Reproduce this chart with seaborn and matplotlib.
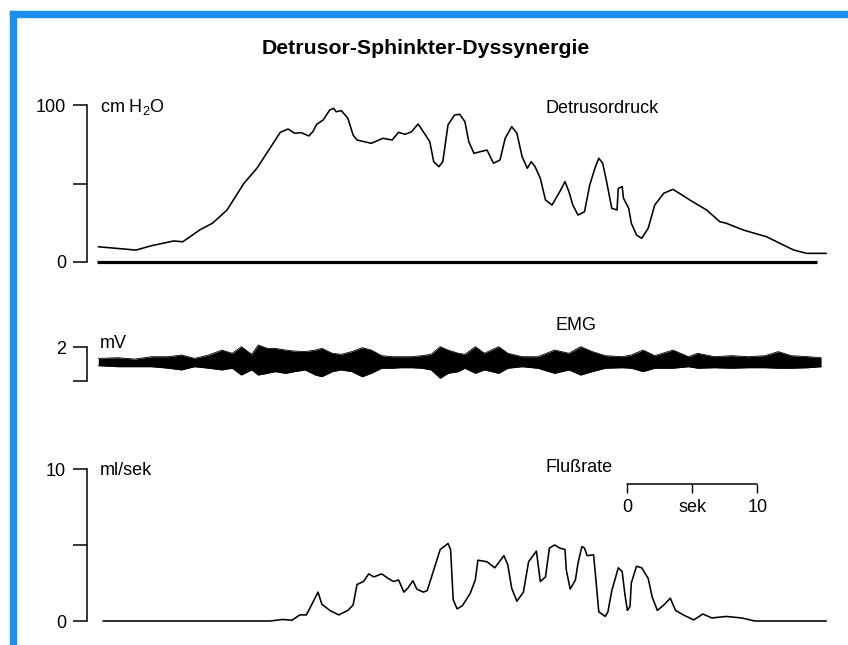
import matplotlib
matplotlib.use("Agg")
import matplotlib.pyplot as plt
from matplotlib.patches import Rectangle
import numpy as np
import pandas as pd
import seaborn as sns

# ---------------- data ----------------
# Detrusor pressure (cm H2O) over time (s)
detrusor_t = [0.1, 1.5, 3.0, 4.2, 5.9, 6.6, 7.9, 8.9, 10.0, 11.3, 12.3, 13.3, 14.1, 14.7,
              15.2, 15.7, 16.3, 16.6, 16.9, 17.4, 17.9, 18.2, 18.4, 18.8, 19.3, 19.7, 20.0,
              21.1, 22.0, 22.7, 23.2, 23.7, 24.2, 24.7, 25.1, 25.6, 25.9, 26.3, 26.6, 27.0,
              27.5, 27.9, 28.3, 28.6, 29.0, 29.5, 30.0, 30.5, 31.0, 31.4, 31.9, 32.3, 32.7,
              33.1, 33.4, 33.7, 34.1, 34.5, 35.0, 35.6, 36.0, 36.3, 36.6, 37.0, 37.5, 37.9,
              38.3, 38.6, 38.9, 39.2, 39.6, 40.0, 40.1, 40.4, 40.5, 40.9, 41.1, 41.5, 41.9,
              42.4, 42.9, 43.6, 44.3, 45.0, 45.6, 46.9, 47.9, 48.4, 49.7, 51.5, 52.8, 53.6,
              54.6, 56.1]
detrusor_p = [9.7, 8.7, 7.6, 10.4, 13.4, 12.9, 20.4, 24.8, 33.1, 50.1, 59.7, 72.4, 82.6, 84.7,
              82.0, 82.4, 80.3, 83.0, 87.7, 90.5, 96.8, 97.9, 95.7, 96.4, 91.5, 80.9, 77.7,
              75.6, 78.8, 77.7, 82.6, 81.3, 83.0, 87.9, 83.0, 76.6, 63.9, 60.7, 63.9, 87.3,
              93.6, 94.1, 89.4, 76.6, 69.2, 70.3, 71.3, 62.9, 65.0, 78.8, 86.2, 82.0, 67.1,
              59.7, 63.9, 60.7, 53.3, 39.5, 36.3, 44.8, 51.2, 44.8, 36.3, 29.9, 32.0, 49.0,
              59.7, 66.1, 62.9, 51.2, 34.2, 33.1, 46.9, 48.0, 40.6, 34.2, 24.7, 17.2, 15.1,
              21.5, 36.3, 43.8, 46.3, 42.7, 39.5, 33.1, 25.7, 24.7, 20.4, 16.1, 10.8, 7.6,
              5.5, 5.5]
baseline_start = 0.0
baseline_end = 55.4

# EMG envelope (mV, on the 0-2 mV bracket scale)
emg_t = [0.1, 1.6, 2.9, 4.2, 5.5, 6.5, 7.5, 8.6, 9.6, 10.4, 11.1, 11.9, 12.4, 13.1, 13.7,
         14.5, 15.2, 16.0, 16.8, 17.3, 18.1, 18.8, 19.6, 20.4, 21.1, 21.9, 22.7, 23.4, 24.2,
         25.0, 25.7, 26.4, 27.0, 27.8, 28.3, 29.1, 29.8, 30.9, 31.6, 32.7, 33.9, 35.2, 36.3,
         37.2, 38.1, 39.1, 40.4, 41.1, 42.0, 42.9, 44.3, 45.5, 46.2, 47.5, 48.8, 50.1, 51.4,
         52.4, 53.4, 54.7, 55.7]
emg_upper = [1.33, 1.37, 1.29, 1.43, 1.43, 1.53, 1.33, 1.53, 1.82, 1.63, 2.02, 1.57, 2.12, 1.92,
             1.92, 1.82, 1.76, 1.73, 1.82, 1.92, 1.63, 1.57, 1.73, 1.96, 1.82, 1.49, 1.43, 1.43,
             1.43, 1.49, 1.57, 2.02, 1.82, 1.63, 1.57, 2.02, 1.63, 2.02, 1.63, 1.43, 1.43, 1.82,
             1.63, 2.02, 1.73, 1.49, 1.43, 1.53, 1.82, 1.49, 1.82, 1.43, 1.63, 1.43, 1.49, 1.43,
             1.49, 1.73, 1.49, 1.43, 1.37]
emg_lower = [0.90, 0.84, 0.84, 0.84, 0.75, 0.65, 0.84, 0.75, 0.65, 0.75, 0.35, 0.65, 0.35, 0.45,
             0.55, 0.45, 0.55, 0.65, 0.35, 0.25, 0.55, 0.65, 0.55, 0.25, 0.45, 0.75, 0.75, 0.78,
             0.78, 0.75, 0.65, 0.16, 0.45, 0.55, 0.75, 0.45, 0.65, 0.45, 0.75, 0.84, 0.75, 0.45,
             0.65, 0.35, 0.55, 0.75, 0.78, 0.75, 0.55, 0.75, 0.75, 0.84, 0.75, 0.78, 0.75, 0.78,
             0.78, 0.75, 0.75, 0.78, 0.84]

# Flow rate (ml/s)
flow_t = [0.46, 13.3, 14.3, 15.0, 15.6, 16.1, 16.5, 17.0, 17.3, 17.9, 18.6, 19.3, 19.7, 20.0,
          20.5, 20.9, 21.3, 21.9, 22.4, 22.8, 23.2, 23.6, 23.9, 24.3, 24.6, 25.1, 25.4, 25.9,
          26.4, 27.0, 27.2, 27.4, 27.7, 28.1, 28.7, 29.1, 29.3, 30.0, 30.6, 31.3, 31.6, 31.9,
          32.3, 32.8, 33.2, 33.8, 34.1, 34.5, 34.8, 35.2, 35.6, 36.0, 36.1, 36.4, 36.8, 37.0,
          37.3, 37.5, 37.7, 38.2, 38.4, 38.6, 39.1, 39.3, 39.6, 40.1, 40.4, 40.6, 40.8, 41.0,
          41.1, 41.5, 41.9, 42.4, 42.7, 43.1, 43.6, 44.1, 44.5, 45.1, 45.9, 46.6, 47.3, 48.4,
          49.6, 50.6, 56.1]
flow_v = [0.0, 0.0, 0.1, 0.05, 0.4, 0.4, 1.05, 1.9, 1.1, 0.7, 0.4, 0.7, 1.05, 2.4,
          2.6, 3.1, 2.9, 3.1, 2.8, 2.6, 2.7, 1.9, 2.15, 2.65, 2.1, 1.9, 2.0, 3.35,
          4.7, 5.1, 4.7, 1.4, 0.8, 1.0, 1.8, 2.7, 4.0, 3.9, 3.5, 4.3, 3.7, 2.15,
          1.3, 1.9, 3.9, 4.6, 2.6, 2.9, 4.8, 5.0, 4.8, 4.7, 3.35, 2.1, 2.7, 3.8,
          4.9, 4.8, 4.3, 4.35, 2.5, 0.6, 0.3, 0.6, 2.0, 3.5, 3.25, 1.8, 0.7, 0.95,
          2.5, 3.6, 3.5, 2.8, 1.6, 0.7, 1.05, 1.5, 0.7, 0.4, 0.07, 0.46, 0.2, 0.3,
          0.2, 0.0, 0.0]

# Scale bar (seconds)
scale_origin = 40.8
scale_ticks = [0, 5, 10]
scale_labels = ["0", "sek", "10"]

title = "Detrusor-Sphinkter-Dyssynergie"

# ---------------- style ----------------
sns.set_style("white")
plt.rcParams["font.family"] = ["Liberation Sans", "DejaVu Sans"]
plt.rcParams["mathtext.default"] = "regular"
plt.rcParams["text.color"] = "black"
plt.rcParams["axes.labelcolor"] = "black"
plt.rcParams["xtick.color"] = "black"
plt.rcParams["ytick.color"] = "black"

W, H = 848, 645
fig = plt.figure(figsize=(W / 100, H / 100), dpi=100)
fig.patch.set_facecolor("white")

BLUE = "#1e8fe8"
fig.patches.append(Rectangle((10 / W, 0), 6 / W, 1 - 11 / H, transform=fig.transFigure,
                             color=BLUE, zorder=10))
fig.patches.append(Rectangle((10 / W, 1 - 17 / H), 1 - 10 / W, 6 / H, transform=fig.transFigure,
                             color=BLUE, zorder=10))

x_left_px, x_right_px = 87, 832
px_per_s = 13.0
t0_px = 97
xlim = ((x_left_px - t0_px) / px_per_s, (x_right_px - t0_px) / px_per_s)

FS = 13
LW = 1.15


def make_ax(top_px, bottom_px):
    ax = fig.add_axes([x_left_px / W, 1 - bottom_px / H,
                       (x_right_px - x_left_px) / W, (bottom_px - top_px) / H])
    ax.set_facecolor("none")
    for s in ["top", "right", "bottom"]:
        ax.spines[s].set_visible(False)
    ax.spines["left"].set_linewidth(1.1)
    ax.spines["left"].set_color("black")
    ax.set_xlim(*xlim)
    ax.set_xticks([])
    ax.tick_params(axis="y", direction="out", length=10, width=1.1, pad=5,
                   labelsize=FS, colors="black", left=True)
    ax.set_xlabel("")
    ax.set_ylabel("")
    return ax


# ---- Detrusor ----
ax1 = make_ax(105, 262)
ax1.set_ylim(0, 100)
ax1.spines["left"].set_bounds(0, 100)
ax1.set_yticks([0, 50, 100])
ax1.set_yticklabels(["0", "", "100"])
sns.lineplot(x=detrusor_t, y=detrusor_p, ax=ax1, color="black", lw=LW, sort=False,
             estimator=None, clip_on=False)
ax1.hlines(0, baseline_start, baseline_end, color="black", lw=2.3, clip_on=False)
ax1.text(0.2, 99, "cm H$_2$O", fontsize=FS, va="center", ha="left")
ax1.text(34.5, 98, "Detrusordruck", fontsize=FS, va="center", ha="left")

# ---- EMG ----
ax2 = make_ax(347, 381)
ax2.set_ylim(0, 2)
ax2.spines["left"].set_bounds(0, 2)
ax2.set_yticks([0, 2])
ax2.set_yticklabels(["", "2"])
ax2.fill_between(emg_t, emg_lower, emg_upper, color="black", lw=0, clip_on=False)
sns.lineplot(x=emg_t, y=emg_upper, ax=ax2, color="black", lw=0.6, sort=False,
             estimator=None, clip_on=False)
sns.lineplot(x=emg_t, y=emg_lower, ax=ax2, color="black", lw=0.6, sort=False,
             estimator=None, clip_on=False)
ax2.text(0.2, 2.2, "mV", fontsize=FS, va="center", ha="left")
ax2.text(35.3, 3.25, "EMG", fontsize=FS, va="center", ha="left")

# ---- Flow ----
ax3 = make_ax(469, 621)
ax3.set_ylim(0, 10)
ax3.spines["left"].set_bounds(0, 10)
ax3.set_yticks([0, 5, 10])
ax3.set_yticklabels(["0", "", "10"])
sns.lineplot(x=flow_t, y=flow_v, ax=ax3, color="black", lw=LW, sort=False,
             estimator=None, clip_on=False)
ax3.text(0.2, 9.9, "ml/sek", fontsize=FS, va="center", ha="left")
ax3.text(34.5, 10.1, "Flußrate", fontsize=FS, va="center", ha="left")

# scale bar
sb_x = [scale_origin + v for v in scale_ticks]
ax3.plot([sb_x[0], sb_x[-1]], [9.0, 9.0], color="black", lw=1.1)
ax3.vlines(sb_x, 8.4, 9.0, color="black", lw=1.0)
for xv, lab in zip(sb_x, scale_labels):
    ax3.text(xv, 7.45, lab, fontsize=FS, ha="center", va="center")

fig.text(426 / W, 1 - 48 / H, title, fontsize=15.3, fontweight="bold",
         ha="center", va="center")

fig.savefig("out.png", dpi=100)
